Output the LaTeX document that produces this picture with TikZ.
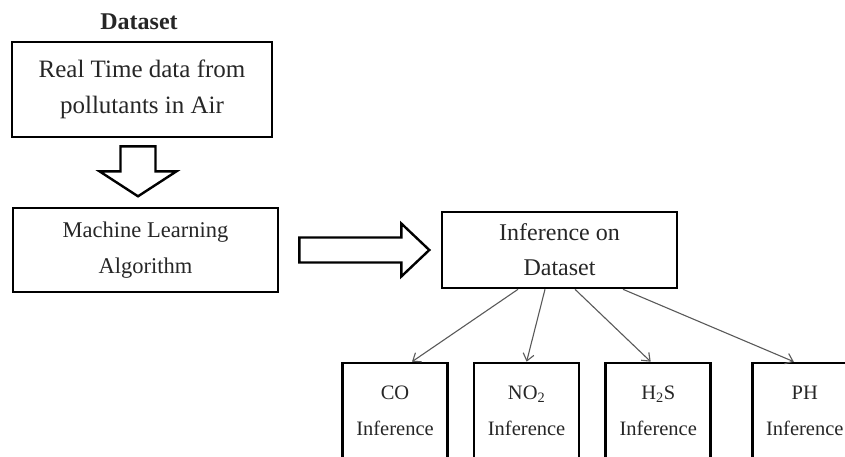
\documentclass[tikz,border=0pt]{standalone}
\usepackage{fontspec}
\setmainfont{Liberation Serif}
\usetikzlibrary{positioning,calc,arrows.meta}

\begin{document}
\begin{tikzpicture}[x=1pt,y=-1pt,
    font=\fontsize{20.5}{36}\selectfont, text=black!85]
    \tikzstyle{block} = [draw, rectangle, line width=2.6pt, align=center, inner sep=0pt]
    \tikzstyle{small} = [block, minimum width=105pt, minimum height=96pt]
    \tikzstyle{fat} = [draw, line width=2.4pt, line join=miter]
    \tikzstyle{thin} = [draw=black!65, line width=1.1pt, -{Straight Barb[length=7pt,width=11pt]}]

    \clip (0,0) rectangle (845,456);

    \node [block, minimum width=260pt, minimum height=95pt, font=\fontsize{25}{36}\selectfont] (realtime) at (142,89.5) {Real Time data from\\pollutants in Air};
    \node [font=\fontsize{24}{24}\selectfont\bfseries, above = 7pt of realtime, xshift=-3pt] (dataset) {Dataset};
    \node [block, minimum width=265pt, minimum height=84pt, font=\fontsize{22.5}{36}\selectfont] (mla) at (145.5,250) {Machine Learning\\Algorithm};
    \node [block, minimum width=235pt, minimum height=76pt, font=\fontsize{24}{35}\selectfont] (infer) at (559.5,250) {Inference on\\Dataset};

    \node [small] (co) at (395,411) {CO\\Inference};
    \node [small, right = 24pt of co] (no2) {NO\textsubscript{2}\\Inference};
    \node [small, right = 24pt of no2] (h2s) {H\textsubscript{2}S\\Inference};
    \node [small, right = 39pt of h2s] (ph) {PH\\Inference};

    % hollow block arrows
    \coordinate (dtop) at ($(realtime.south)+(-4,8)$);
    \coordinate (rtail) at ($(mla.east)+(20,0)$);
    \draw [fat, shift={(dtop)}] (-17.5,0) -- (-17.5,25) -- (-38.5,25) -- (0,50)
          -- (38.5,25) -- (17.5,25) -- (17.5,0) -- cycle;
    \draw [fat, shift={(rtail)}] (0,-12.5) -- (102,-12.5) -- (102,-26.5) -- (130,0)
          -- (102,26.5) -- (102,12.5) -- (0,12.5) -- cycle;

    \draw [thin] ([xshift=-41.5pt]infer.south) -- ([xshift=17pt]co.north);
    \draw [thin] ([xshift=-14.5pt]infer.south) -- (no2.north);
    \draw [thin] ([xshift=15.5pt]infer.south) -- ([xshift=-7.5pt]h2s.north);
    \draw [thin] ([xshift=63.5pt]infer.south) -- ([xshift=-11pt]ph.north);
\end{tikzpicture}
\end{document}
